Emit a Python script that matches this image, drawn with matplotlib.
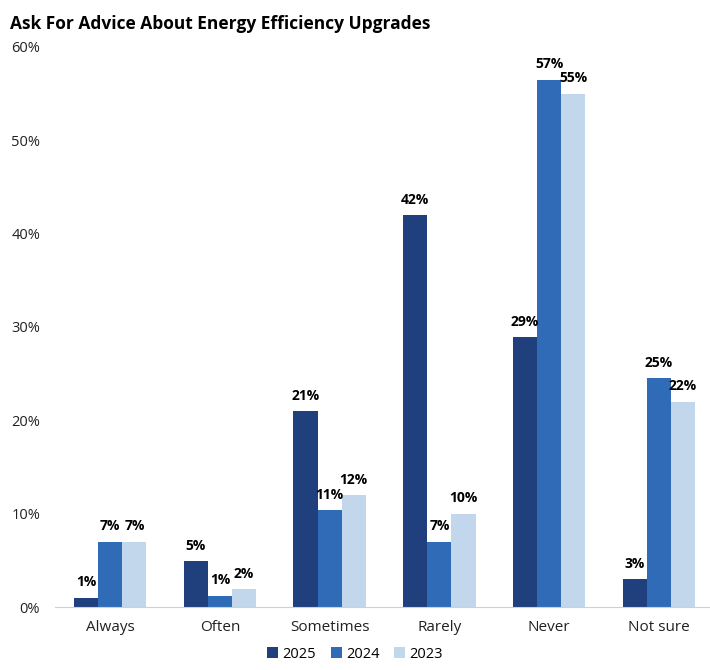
import numpy as np
import matplotlib.pyplot as plt

categories = ['Always', 'Often', 'Sometimes', 'Rarely', 'Never', 'Not sure']
years = ['2025', '2024', '2023']
values_2025 = [1.0, 4.9, 21.0, 42.0, 28.9, 3.0]
values_2024 = [7.0, 1.2, 10.4, 7.0, 56.5, 24.5]
values_2023 = [7.0, 1.9, 12.0, 10.0, 55.0, 22.0]
labels_2025 = ['1%', '5%', '21%', '42%', '29%', '3%']
labels_2024 = ['7%', '1%', '11%', '7%', '57%', '25%']
labels_2023 = ['7%', '2%', '12%', '10%', '55%', '22%']
yticks = [0, 10, 20, 30, 40, 50, 60]

colors = ['#1F3F7D', '#306BB8', '#C2D7EB']

plt.rcParams['font.family'] = ['Open Sans', 'DejaVu Sans']

fig = plt.figure(figsize=(7.1, 6.7), dpi=100)
ax = fig.add_axes([0.078, 0.094, 0.927, 0.836])

x = np.arange(len(categories))
width = 0.22
series = [(values_2025, labels_2025), (values_2024, labels_2024), (values_2023, labels_2023)]
for i, ((vals, labs), year, color) in enumerate(zip(series, years, colors)):
    pos = x + (i - 1) * width
    ax.bar(pos, vals, width, color=color, label=year)
    for p, v, lab in zip(pos, vals, labs):
        ax.text(p, v + 0.9, lab, ha='center', va='bottom', fontsize=10,
                fontweight='bold', color='black')

ax.set_xlim(-0.5, len(categories) - 0.5)
ax.set_ylim(0, 60)
ax.set_yticks(yticks)
ax.set_yticklabels([f'{t}%' for t in yticks], fontsize=10.5, color='#222222')
ax.set_xticks(x)
ax.set_xticklabels(categories, fontsize=11, color='#222222')
ax.tick_params(axis='x', length=0, pad=9)
ax.tick_params(axis='y', length=0, pad=11)
for s in ['top', 'right', 'left']:
    ax.spines[s].set_visible(False)
ax.spines['bottom'].set_color('#D0D0D0')

fig.text(0.014, 0.978, 'Ask For Advice About Energy Efficiency Upgrades',
         fontsize=12.5, fontweight='bold', ha='left', va='top')

fig.legend(loc='lower center', bbox_to_anchor=(0.5, -0.007), ncol=3, frameon=False,
           fontsize=10.5, handlelength=0.75, handleheight=0.75, handletextpad=0.3,
           columnspacing=1.0)

fig.savefig('out.png', dpi=100)
